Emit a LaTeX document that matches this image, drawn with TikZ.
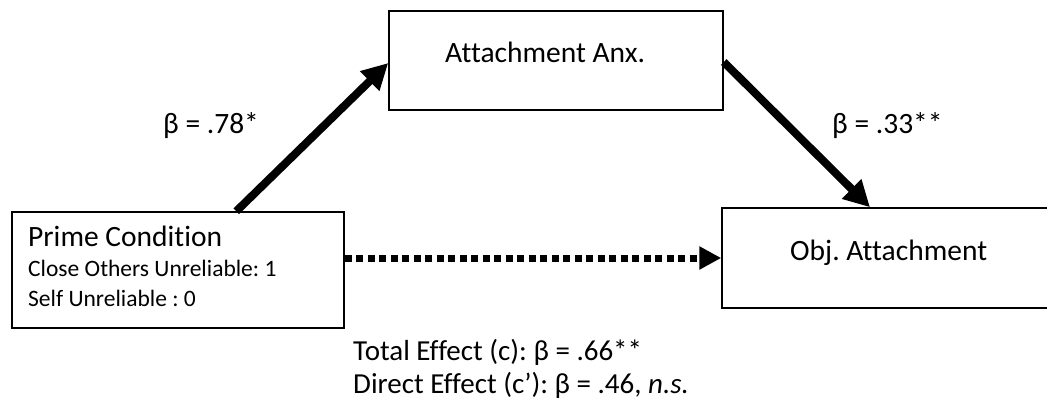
\documentclass[tikz,border=0pt]{standalone}
\usepackage{fontspec}
\setmainfont[RawFeature={-liga;-clig}]{Carlito}
\frenchspacing
\usetikzlibrary{arrows.meta}
\tikzset{
  box/.style={draw=black, line width=1.5pt, fill=white, inner sep=0pt},
  bigtxt/.style={font=\fontsize{29.5}{32}\selectfont, inner sep=0pt, anchor=base west},
  smalltxt/.style={font=\fontsize{23.5}{26}\selectfont, inner sep=0pt, anchor=base west},
  midtxt/.style={font=\fontsize{29}{32}\selectfont, inner sep=0pt, anchor=base west},
  solidarrow/.style={line width=8pt, -{Triangle[length=26pt,width=26pt]}},
  dotarrow/.style={line width=7pt, dash pattern=on 7pt off 4.5pt, -{Triangle[length=22pt,width=22pt]}}
}
\begin{document}
\begin{tikzpicture}[x=1pt,y=-1pt]
\useasboundingbox (0,0) rectangle (1047,413);
\clip (0,0) rectangle (1047,413);
\fill[white] (0,0) rectangle (1047,413);
% boxes
\node[box, minimum width=332pt, minimum height=116pt] (prime) at (178,270) {};
\node[box, minimum width=334pt, minimum height=99pt] (anx) at (556,60.5) {};
\node[box, minimum width=330pt, minimum height=100pt] (obj) at (887,258) {};
% box texts
\node[bigtxt] (primet) at (28,246.7) {Prime Condition};
\node[smalltxt] (closet) at (28,276.7) {Close Others Unreliable: 1};
\node[smalltxt] (selft) at (28,306) {Self Unreliable : 0};
\node[bigtxt] (anxt) at (445,62) {Attachment Anx.};
\node[bigtxt] (objt) at (790,260) {Obj. Attachment};
% labels
\node[bigtxt] (b1) at (163,133) {β = .78*};
\node[bigtxt] (b2) at (832,133) {β = .33**};
\node[midtxt] (tot) at (353,360) {Total Effect (c): β = .66**};
\node[midtxt] (dir) at (353,393) {Direct Effect (c’): β = .46, \textit{n.s.}};
% connectors
\draw[solidarrow] ([xshift=225pt]prime.north west) -- ([yshift=-2.5pt]anx.west);
\draw[solidarrow] ([yshift=-1.5pt]anx.east) -- ([xshift=-17pt]obj.north);
\draw[dotarrow] ([yshift=12pt]prime.east) -- (obj.west);
\end{tikzpicture}
\end{document}
